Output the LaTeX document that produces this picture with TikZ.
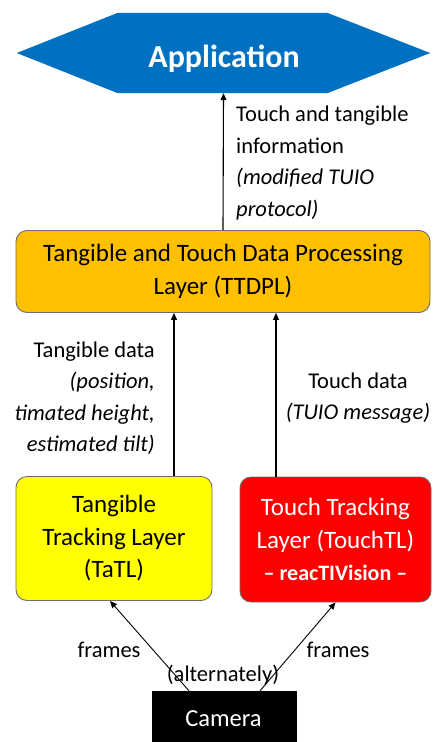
\documentclass[tikz,border=0pt]{standalone}
\usepackage{fontspec}
\setmainfont{Carlito}
\usetikzlibrary{arrows.meta,calc}
\definecolor{appblue}{HTML}{0070C0}
\definecolor{ttorange}{HTML}{FFC000}
\definecolor{tyellow}{HTML}{FFFF00}
\definecolor{tred}{HTML}{FF0000}
\definecolor{bordergray}{HTML}{6E6E6E}
\tikzset{
  layerbox/.style={rectangle, rounded corners=11pt, draw=bordergray, line width=0.9pt,
    align=center, inner sep=0pt, font=\fontsize{25}{32.5}\selectfont},
  lbl/.style={inner sep=0pt, font=\fontsize{22.5}{31.5}\selectfont},
  arr/.style={line width=1.1pt, -{Triangle[length=7pt,width=6pt]}},
}
\begin{document}
\begin{tikzpicture}[x=1pt,y=-1pt]
\useasboundingbox (0,0) rectangle (432,742);
% Application hexagon
\node[minimum width=413pt, minimum height=80pt, inner sep=0pt] (app) at (223.5,53) {};
\fill[appblue] (app.west) -- ([xshift=101pt]app.north west) -- ([xshift=-103pt]app.north east)
  -- (app.east) -- ([xshift=-103pt]app.south east) -- ([xshift=101pt]app.south west) -- cycle;
\node[text=white, font=\fontsize{32}{36}\selectfont\bfseries, inner sep=0pt] (applabel) at (224,59) {Application};
% TTDPL
\node[layerbox, fill=ttorange, minimum width=414pt, minimum height=82pt] (ttdpl) at (223,271.5)
  {Tangible and Touch Data Processing\\Layer (TTDPL)};
% TaTL
\node[layerbox, fill=tyellow, minimum width=196pt, minimum height=124pt] (tatl) at (114,538.5)
  {Tangible\\Tracking Layer\\(TaTL)};
% TouchTL
\node[layerbox, fill=tred, text=white, minimum width=191pt, minimum height=125pt] (touch) at (335.5,539.5)
  {Touch Tracking\\Layer (TouchTL)\\{\fontsize{22}{32}\selectfont\bfseries -- reacTIVision --}};
% Camera
\node[fill=black, text=white, minimum width=145pt, minimum height=54pt, inner sep=0pt,
  font=\fontsize{24}{30}\selectfont] (cam) at (224.5,718) {};
\node[text=white, inner sep=0pt, font=\fontsize{24.5}{30}\selectfont] (camlabel) at (223.5,719) {Camera};
% helper x positions
\coordinate (xl) at (174,0);
\coordinate (xr) at (276,0);
\coordinate (cl) at (189,0);
\coordinate (cr) at (260,0);
\coordinate (el) at (110,0);
% arrows
\draw[arr] (ttdpl.north) -- (app.south);
\draw[arr] (tatl.north -| xl) -- (ttdpl.south -| xl);
\draw[arr] (touch.north -| xr) -- (ttdpl.south -| xr);
\draw[arr, line width=0.9pt] (cam.north -| cl) -- (tatl.south -| el);
\draw[arr, line width=0.9pt] (cam.north -| cr) -- (touch.south);
% labels
\node[lbl, anchor=west, align=left] (toplabel) at (236,163)
  {Touch and tangible\\information\\\itshape (modified TUIO\\\itshape protocol)};
\node[lbl, anchor=east, align=right] (tanglabel) at (155,398)
  {Tangible data\\\itshape (position,\\\itshape timated height,\\\itshape estimated tilt)};
\node[lbl, align=center] (touchlabel) at (358,398)
  {Touch data\\\itshape (TUIO message)};
\node[lbl] (framesl) at (109,650) {frames};
\node[lbl] (framesr) at (338,650) {frames};
\node[lbl] (altlabel) at (223,675) {(alternately)};
\end{tikzpicture}
\end{document}
